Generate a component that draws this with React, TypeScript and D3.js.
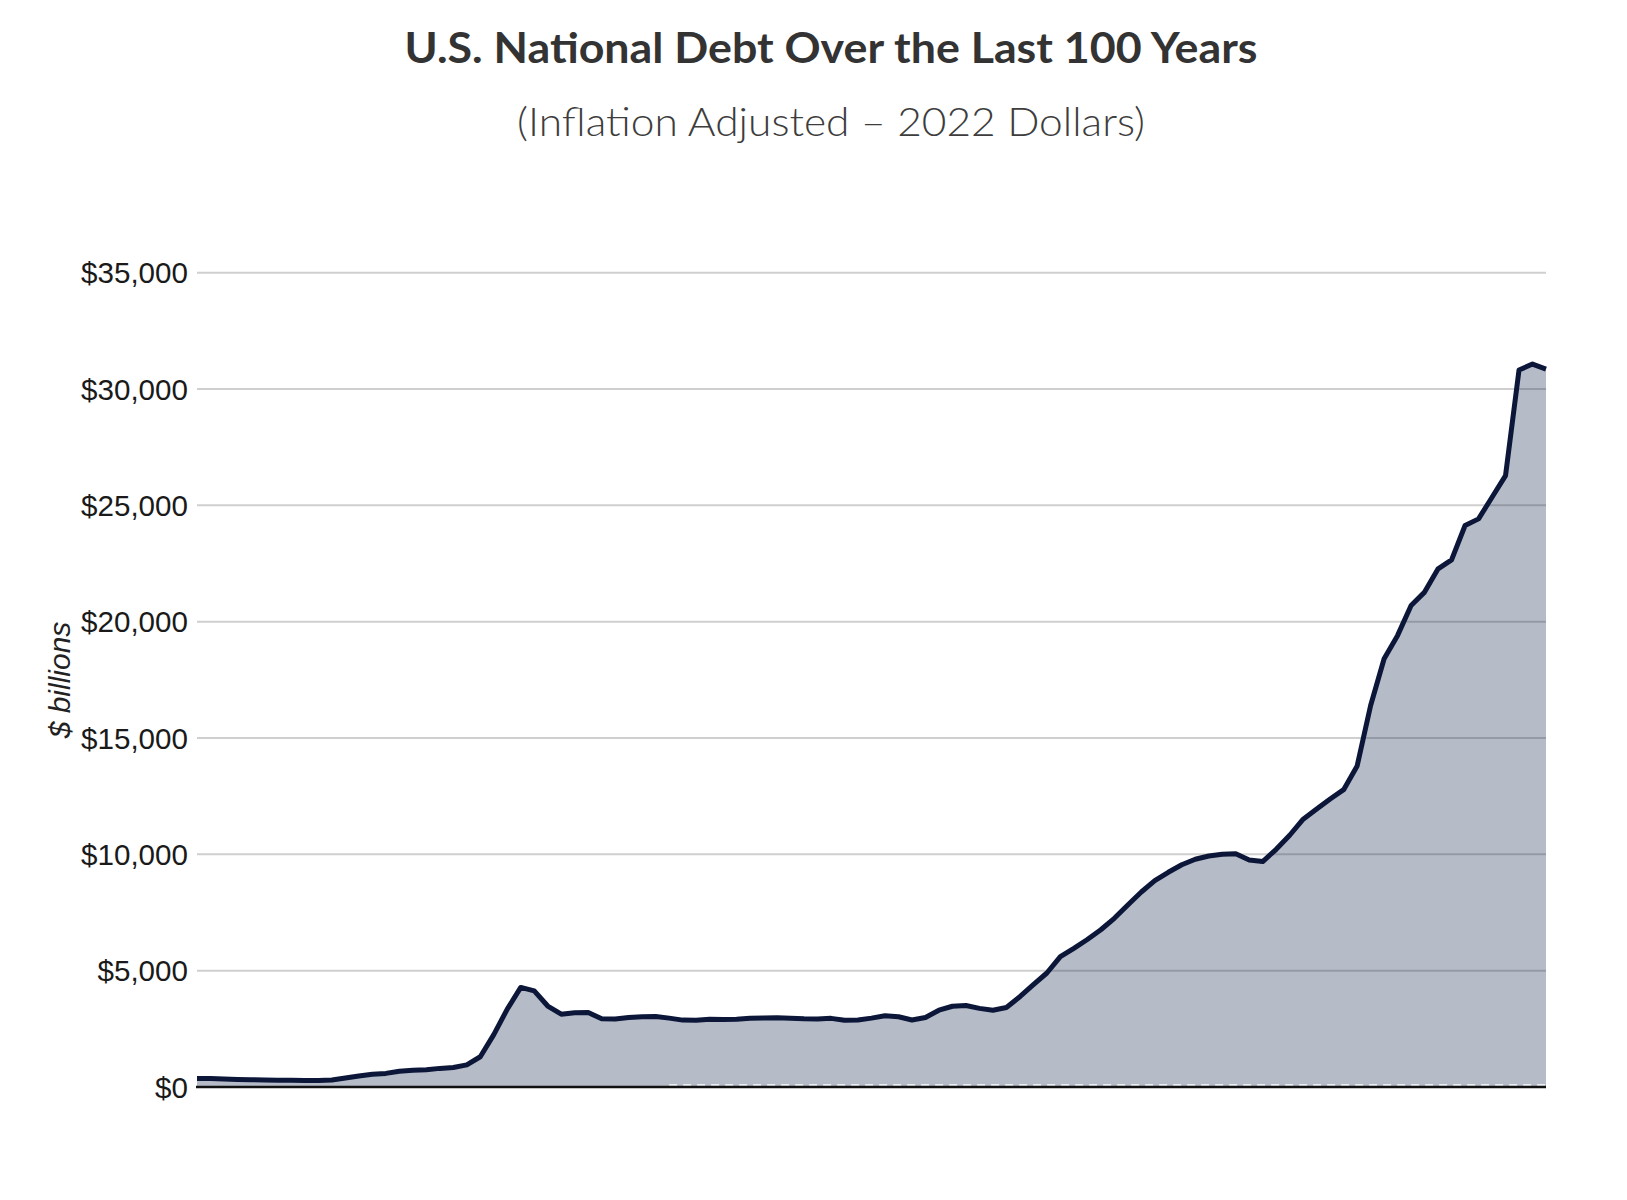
import React, { useEffect } from "react";
import * as d3 from "d3";

// ---------- DATA ----------
const startYear = 1922;
const endYear = 2022;
// U.S. national debt, $ billions, 2022 dollars, one per year 1922..2022
const debtValues: number[] = [
  360, 360, 348, 325, 310, 300, 292, 285, 278, 275,
  300, 385, 475, 550, 585, 680, 720, 740, 800, 840,
  950, 1300, 2250, 3350, 4280, 4130, 3480, 3130, 3190, 3200,
  2930, 2927, 2985, 3020, 3028, 2960, 2875, 2869, 2912, 2898,
  2912, 2956, 2970, 2975, 2960, 2930, 2920, 2950, 2870, 2880,
  2960, 3060, 3020, 2880, 2990, 3300, 3470, 3500, 3380, 3300,
  3420, 3880, 4400, 4900, 5600, 5960, 6340, 6760, 7250, 7820,
  8380, 8870, 9230, 9550, 9790, 9930, 10000, 10030, 9760, 9690,
  10216, 10820, 11510, 11950, 12380, 12780, 13800, 16400, 18409, 19411,
  20699, 21271, 22273, 22659, 24133, 24419, 25349, 26279, 30816, 31073,
  30859,
];
const years: number[] = debtValues.map((_, i) => startYear + i);
const yTicks: number[] = [0, 5000, 10000, 15000, 20000, 25000, 30000, 35000];
const dashedFromYear = 1957;

const title = "U.S. National Debt Over the Last 100 Years";
const subtitle = "(Inflation Adjusted \u2013 2022 Dollars)";
const yAxisTitle = "$ billions";

// ---------- LAYOUT ----------
const W = 1627;
const H = 1200;
const plotLeft = 197;
const plotRight = 1546;
const plotTop = 272.7;
const plotBottom = 1087;

export default function App() {
  useEffect(() => {
    document.body.style.margin = "0";
  }, []);

  const x = d3.scaleLinear().domain([startYear, endYear]).range([plotLeft, plotRight]);
  const y = d3.scaleLinear().domain([0, 35000]).range([plotBottom, plotTop]);

  const pts = years.map((yr, i) => ({ yr, v: debtValues[i] }));
  const areaGen = d3
    .area<{ yr: number; v: number }>()
    .x((d) => x(d.yr))
    .y0(y(0))
    .y1((d) => y(d.v));
  const lineGen = d3
    .line<{ yr: number; v: number }>()
    .x((d) => x(d.yr))
    .y((d) => y(d.v));

  const fmt = (v: number) => "$" + d3.format(",")(v);

  return (
    <svg
      width={W}
      height={H}
      viewBox={`0 0 ${W} ${H}`}
      style={{ display: "block", background: "#ffffff" }}
    >
      <rect x={0} y={0} width={W} height={H} fill="#ffffff" />
      {/* Titles */}
      <text
        x={831}
        y={63}
        textAnchor="middle"
        fontFamily="Lato, 'Noto Sans', sans-serif"
        fontWeight={700}
        fontSize={42}
        fill="#333333"
        textLength={853}
        lengthAdjust="spacingAndGlyphs"
      >
        {title}
      </text>
      <text
        x={831}
        y={136}
        textAnchor="middle"
        fontFamily="Lato, 'Noto Sans', sans-serif"
        fontWeight={300}
        fontSize={39}
        fill="#3d3d3d"
        textLength={628}
        lengthAdjust="spacingAndGlyphs"
      >
        {subtitle}
      </text>

      {/* Gridlines */}
      {yTicks
        .filter((t) => t > 0)
        .map((t) => (
          <line
            key={"g" + t}
            x1={plotLeft}
            x2={plotRight}
            y1={y(t)}
            y2={y(t)}
            stroke="#cfcfcf"
            strokeWidth={2}
          />
        ))}

      {/* Area */}
      <path d={areaGen(pts) || ""} fill="#14244f" fillOpacity={0.31} />

      {/* faint dashed white line near baseline */}
      <line
        x1={x(dashedFromYear)}
        x2={plotRight}
        y1={y(0) - 2}
        y2={y(0) - 2}
        stroke="#ffffff"
        strokeWidth={1.6}
        strokeDasharray="8,6"
      />

      {/* Line */}
      <path
        d={lineGen(pts) || ""}
        fill="none"
        stroke="#0b1638"
        strokeWidth={5}
        strokeLinejoin="round"
        strokeLinecap="butt"
      />

      {/* Baseline */}
      <line
        x1={plotLeft - 1}
        x2={plotRight}
        y1={y(0)}
        y2={y(0)}
        stroke="#111111"
        strokeWidth={2.5}
      />

      {/* Y tick labels */}
      {yTicks.map((t) => (
        <text
          key={"t" + t}
          x={188}
          y={y(t)}
          dy="0.36em"
          textAnchor="end"
          fontFamily="'Liberation Sans', Arial, sans-serif"
          fontSize={29.6}
          fill="#1a1a1a"
        >
          {fmt(t)}
        </text>
      ))}

      {/* Y axis title */}
      <text
        transform={`translate(70, ${680}) rotate(-90)`}
        textAnchor="middle"
        fontFamily="'Liberation Sans', Arial, sans-serif"
        fontStyle="italic"
        fontSize={30}
        fill="#222222"
      >
        {yAxisTitle}
      </text>
    </svg>
  );
}
